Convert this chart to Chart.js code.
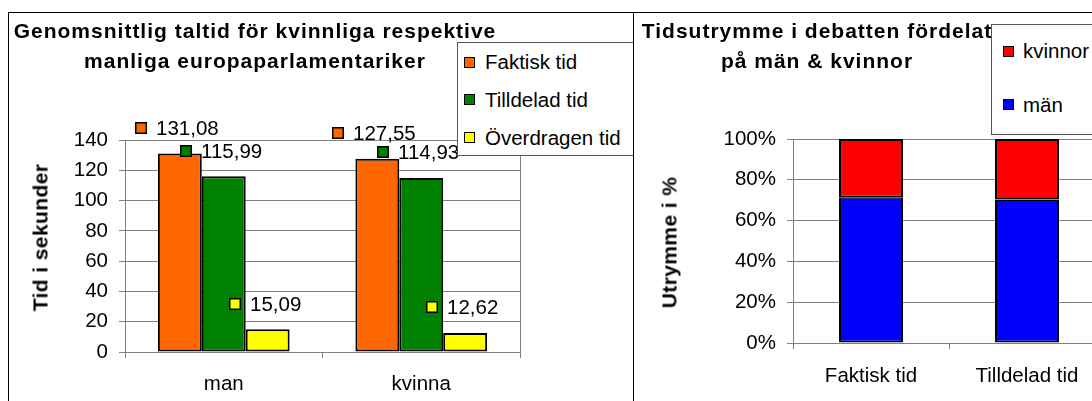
<!DOCTYPE html>
<html>
<head>
<meta charset="utf-8">
<script src="https://cdn.jsdelivr.net/npm/chart.js"></script>
<style>
html,body{margin:0;padding:0;background:#fff;overflow:hidden;width:1092px;height:401px;}
#stage{position:relative;width:1092px;height:401px;overflow:hidden;font-family:"Liberation Sans",Arial,Helvetica,sans-serif;color:#000;}
canvas{position:absolute;top:0;}
#c1{left:0;z-index:1;}
#c2{left:634px;z-index:1;}
.ttl{position:absolute;z-index:2;font-weight:bold;font-size:21px;letter-spacing:1px;line-height:21px;white-space:nowrap;text-align:center;}
.axt{position:absolute;z-index:2;font-weight:bold;font-size:21px;letter-spacing:0.4px;line-height:21px;height:21px;width:240px;white-space:nowrap;text-align:center;transform:rotate(-90deg);}
.lgbox{position:absolute;z-index:3;background:#fff;border:1px solid #555;box-sizing:border-box;}
.lgtxt{position:absolute;z-index:4;font-size:20.5px;line-height:24px;height:24px;white-space:nowrap;}
.lgkey{position:absolute;z-index:4;width:11px;height:11px;border:1px solid #000;box-sizing:border-box;}
.frame{position:absolute;z-index:5;box-sizing:border-box;pointer-events:none;}
</style>
</head>
<body>
<div id="stage">
  <canvas id="c1" width="634" height="401"></canvas>
  <canvas id="c2" width="480" height="401"></canvas>

  <div class="ttl" style="left:-65px;top:20px;width:640px;">Genomsnittlig taltid för kvinnliga respektive</div>
  <div class="ttl" style="left:-65px;top:50px;width:640px;">manliga europaparlamentariker</div>
  <div class="axt" style="left:-80px;top:227px;">Tid i sekunder</div>

  <div class="ttl" style="left:497px;top:20px;width:640px;">Tidsutrymme i debatten fördelat</div>
  <div class="ttl" style="left:497px;top:50px;width:640px;">på män &amp; kvinnor</div>
  <div class="axt" style="left:549px;top:232px;">Utrymme i %</div>

  <div class="lgbox" style="left:457px;top:42px;width:177px;height:114px;"></div>
  <div class="lgbox" style="left:991px;top:24px;width:200px;height:111px;"></div>
  <div id="legends"></div>

  <div class="frame" style="left:8px;top:12px;width:626px;height:420px;border:1px solid #000;"></div>
  <div class="frame" style="left:633px;top:12px;width:520px;height:420px;border-left:1px solid #000;border-top:1px solid #000;"></div>
</div>
<script>
// ---------- data: left chart ----------
const groups = ['man', 'kvinna'];
const seriesNames = ['Faktisk tid', 'Tilldelad tid', 'Överdragen tid'];
const faktiskTid = [131.08, 127.55];
const tilldeladTid = [115.99, 114.93];
const overdragenTid = [15.09, 12.62];
const seriesColors = ['#FF6600', '#008000', '#FFFF00'];
const timeAxisMin = 0, timeAxisMax = 140, timeAxisStep = 20;

// ---------- data: right chart ----------
const shareCategories = ['Faktisk tid', 'Tilldelad tid'];
const shareSeriesNames = ['män', 'kvinnor'];
const manShare = [71.4, 70.4];
const kvinnorShare = [28.6, 29.6];
const shareColors = ['#0000FF', '#FF0000'];
const shareAxisMax = 100, shareAxisStep = 20;

const FONT = '"Liberation Sans", Arial, Helvetica, sans-serif';
Chart.defaults.font.family = FONT;
Chart.defaults.font.size = 20.5;
Chart.defaults.color = '#000';

const GRID = '#808080';

const plotFrame = {
  id: 'plotFrame',
  beforeDatasetsDraw(chart) {
    const a = chart.chartArea, ctx = chart.ctx;
    ctx.save();
    ctx.strokeStyle = GRID;
    ctx.lineWidth = 1;
    ctx.beginPath();
    const x = Math.round(a.right) + 0.5;
    ctx.moveTo(x, a.top);
    ctx.lineTo(x, a.bottom);
    ctx.stroke();
    ctx.restore();
  }
};

const valueLabels = {
  id: 'valueLabels',
  afterDatasetsDraw(chart) {
    const ctx = chart.ctx;
    ctx.save();
    ctx.font = '20.5px ' + FONT;
    ctx.textBaseline = 'middle';
    ctx.textAlign = 'left';
    chart.data.datasets.forEach((ds, di) => {
      const meta = chart.getDatasetMeta(di);
      meta.data.forEach((bar, i) => {
        const txt = ds.data[i].toFixed(2).replace('.', ',');
        const tw = ctx.measureText(txt).width;
        const key = 12, gap = 9;
        const total = key + gap + tw;
        const left = Math.round(bar.x - 3 - total / 2);
        const cy = Math.round(bar.y - 25.5);
        ctx.fillStyle = ds.backgroundColor;
        ctx.fillRect(left, cy - 6, key, key);
        ctx.strokeStyle = '#000';
        ctx.lineWidth = 1.5;
        ctx.strokeRect(left + 0.75, cy - 6 + 0.75, key - 1.5, key - 1.5);
        ctx.fillStyle = '#000';
        ctx.fillText(txt, left + key + gap, cy + 1);
      });
    });
    ctx.restore();
  }
};

const barStyle1 = { borderColor: '#000000', borderWidth: 2, borderSkipped: false };

const chart1 = new Chart(document.getElementById('c1'), {
  type: 'bar',
  data: {
    labels: groups,
    datasets: [
      Object.assign({ label: seriesNames[0], data: faktiskTid, backgroundColor: seriesColors[0] }, barStyle1),
      Object.assign({ label: seriesNames[1], data: tilldeladTid, backgroundColor: seriesColors[1] }, barStyle1),
      Object.assign({ label: seriesNames[2], data: overdragenTid, backgroundColor: seriesColors[2] }, barStyle1)
    ]
  },
  options: {
    responsive: false, animation: false, devicePixelRatio: 1, events: [],
    layout: { padding: { left: 0, top: 140, right: 114, bottom: 0 } },
    plugins: { legend: { display: false }, title: { display: false }, tooltip: { enabled: false } },
    datasets: { bar: { categoryPercentage: 0.667, barPercentage: 1 } },
    scales: {
      x: {
        offset: true,
        grid: { offset: true, drawOnChartArea: false, drawTicks: true, tickLength: 6, tickColor: GRID },
        border: { color: GRID },
        ticks: { padding: 14 },
        afterFit(s) { s.height = 49; }
      },
      y: {
        min: timeAxisMin, max: timeAxisMax,
        ticks: { stepSize: timeAxisStep, padding: 11 },
        grid: { color: GRID, tickColor: GRID, tickLength: 6 },
        border: { color: GRID },
        afterFit(s) { s.width = 125; }
      }
    }
  },
  plugins: [plotFrame, valueLabels]
});

const chart2 = new Chart(document.getElementById('c2'), {
  type: 'bar',
  data: {
    labels: shareCategories,
    datasets: [
      { label: shareSeriesNames[0], data: manShare, backgroundColor: shareColors[0],
        borderColor: '#000000', borderSkipped: false, borderWidth: { top: 1.5, left: 2, right: 2, bottom: 2 } },
      { label: shareSeriesNames[1], data: kvinnorShare, backgroundColor: shareColors[1],
        borderColor: '#000000', borderSkipped: false, borderWidth: { top: 2, left: 2, right: 2, bottom: 1.5 } }
    ]
  },
  options: {
    responsive: false, animation: false, devicePixelRatio: 1, events: [],
    layout: { padding: { left: 0, top: 139, right: 9, bottom: 0 } },
    plugins: { legend: { display: false }, title: { display: false }, tooltip: { enabled: false } },
    datasets: { bar: { categoryPercentage: 1, barPercentage: 0.41 } },
    scales: {
      x: {
        stacked: true, offset: true,
        grid: { offset: true, drawOnChartArea: false, drawTicks: true, tickLength: 6, tickColor: GRID },
        border: { color: GRID },
        ticks: { padding: 15 },
        afterFit(s) { s.height = 58; }
      },
      y: {
        stacked: true, min: 0, max: shareAxisMax,
        ticks: { stepSize: shareAxisStep, padding: 11, callback: v => v + '%' },
        grid: { color: GRID, tickColor: GRID, tickLength: 6 },
        border: { color: GRID },
        afterFit(s) { s.width = 159; }
      }
    }
  }
});

// ---------- legends (HTML, built from the series arrays) ----------
const lg = document.getElementById('legends');
function addItem(name, color, keyLeft, textLeft, cy) {
  const k = document.createElement('div');
  k.className = 'lgkey';
  k.style.left = keyLeft + 'px';
  k.style.top = Math.round(cy - 5.5) + 'px';
  k.style.background = color;
  lg.appendChild(k);
  const t = document.createElement('div');
  t.className = 'lgtxt';
  t.style.left = textLeft + 'px';
  t.style.top = Math.round(cy - 12) + 'px';
  t.textContent = name;
  lg.appendChild(t);
}
const leftRows = [62, 99.5, 137.5];
chart1.data.datasets.forEach((ds, i) => addItem(ds.label, ds.backgroundColor, 464, 485, leftRows[i]));
const rightRows = [51, 104.7];
chart2.data.datasets.slice().reverse().forEach((ds, i) => addItem(ds.label, ds.backgroundColor, 1003, 1023, rightRows[i]));
</script>
</body>
</html>
